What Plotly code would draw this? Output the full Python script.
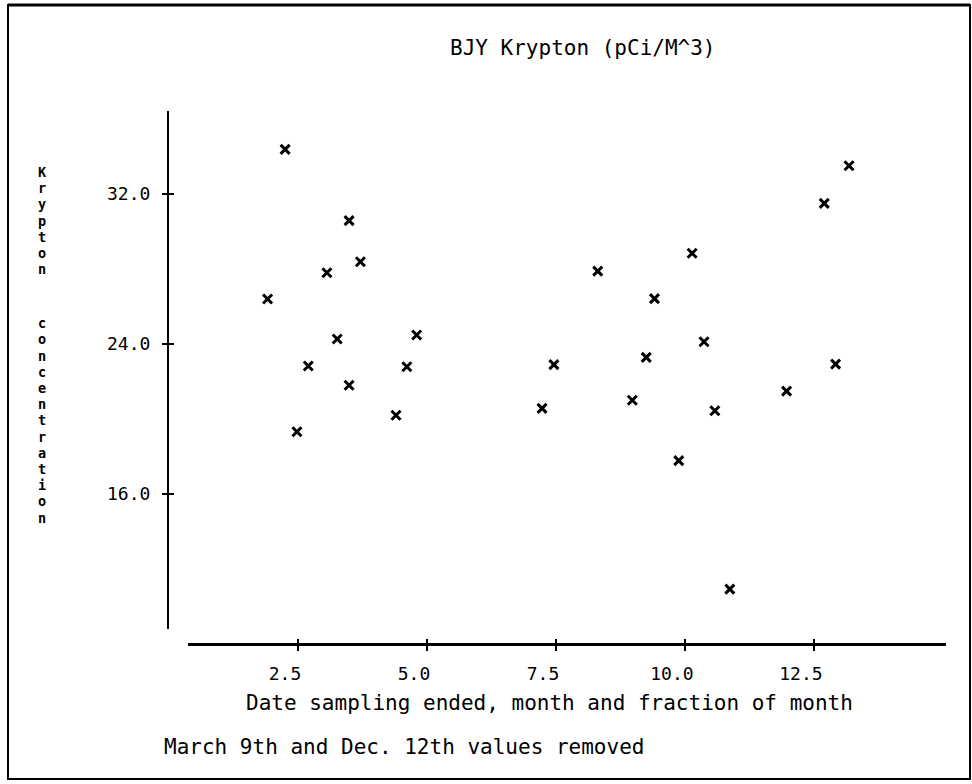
import plotly.graph_objects as go

W, H = 972, 784

# Sampling end date (month + fraction of month) and krypton concentration (pCi/M^3)
month = [1.91, 2.25, 2.48, 2.70, 3.06, 3.26, 3.49, 3.49, 3.71, 4.40, 4.61, 4.80,
         7.23, 7.46, 8.31, 8.98, 9.25, 9.41, 9.88, 10.14, 10.37, 10.58, 10.87,
         11.97, 12.70, 12.92, 13.18]
krypton = [26.40, 34.38, 19.32, 22.83, 27.80, 24.27, 30.58, 21.80, 28.39, 20.20,
           22.79, 24.48, 20.57, 22.90, 27.89, 21.00, 23.29, 26.42, 17.78, 28.84,
           24.12, 20.44, 10.93, 21.49, 31.50, 22.93, 33.51]

x_ticks = [2.5, 5.0, 7.5, 10.0, 12.5]
x_tick_text = ["2.5", "5.0", "7.5", "10.0", "12.5"]
y_ticks = [16.0, 24.0, 32.0]
y_tick_text = ["16.0", "24.0", "32.0"]

title_text = "BJY Krypton (pCi/M^3)"
x_title = "Date sampling ended, month and fraction of month"
y_title = "Krypton concentration"
note_text = "March 9th and Dec. 12th values removed"

FONT = "DejaVu Sans Mono"
X_RANGE = [0.368, 15.06]
Y_RANGE = [8.8, 36.43]


def px(x):
    return x / W


def py(y):
    return 1 - y / H


x_dom = [px(188), px(946)]
y_dom = [py(629), py(111)]
x_pos = py(644)
y_pos_axis = px(168)

fig = go.Figure()
fig.add_trace(go.Scatter(
    x=month, y=krypton, mode="markers",
    marker=dict(symbol="x-thin-open", size=9, color="black",
                line=dict(width=3, color="black")),
    showlegend=False,
))
# companion axes carry the inner half of each cross-shaped tick
fig.add_trace(go.Scatter(x=[], y=[], xaxis="x2", yaxis="y2",
                         showlegend=False, hoverinfo="skip"))

common = dict(showgrid=False, zeroline=False, tickcolor="black", tickwidth=2)

fig.update_layout(
    width=W, height=H, autosize=False,
    margin=dict(l=0, r=0, t=0, b=0),
    paper_bgcolor="white", plot_bgcolor="white",
    xaxis=dict(domain=x_dom, range=X_RANGE, anchor="free", position=x_pos,
               showline=True, linecolor="black", linewidth=3,
               ticks="outside", ticklen=5, tickvals=x_ticks, ticktext=x_tick_text,
               tickfont=dict(family=FONT, size=18, color="black"),
               ticklabelshift=-13, ticklabelstandoff=7, **common),
    xaxis2=dict(overlaying="x", range=X_RANGE, anchor="free", position=x_pos,
                showline=False, ticks="inside", ticklen=5, tickvals=x_ticks,
                showticklabels=False, **common),
    yaxis=dict(domain=y_dom, range=Y_RANGE, anchor="free", position=y_pos_axis,
               showline=True, linecolor="black", linewidth=2,
               ticks="outside", ticklen=5, tickvals=y_ticks, ticktext=y_tick_text,
               tickfont=dict(family=FONT, size=18, color="black"),
               ticklabelstandoff=8, **common),
    yaxis2=dict(overlaying="y", range=Y_RANGE, anchor="free", position=y_pos_axis,
                showline=False, ticks="inside", ticklen=5, tickvals=y_ticks,
                showticklabels=False, **common),
    shapes=[
        dict(type="rect", xref="paper", yref="paper",
             x0=px(8), x1=px(970), y0=py(779), y1=py(5),
             line=dict(color="black", width=2)),
        dict(type="line", xref="paper", yref="paper",
             x0=px(8), x1=px(970), y0=py(5), y1=py(5),
             line=dict(color="black", width=3)),
    ],
)

annotations = [
    dict(text=title_text, x=px(583), y=py(48), xanchor="center", yanchor="middle",
         font=dict(family=FONT, size=21, color="black")),
    dict(text=x_title, x=px(549), y=py(703), xanchor="center", yanchor="middle",
         font=dict(family=FONT, size=21, color="black")),
    dict(text=note_text, x=px(162), y=py(747), xanchor="left", yanchor="middle",
         font=dict(family=FONT, size=21, color="black")),
]

# vertical axis title: upright letters stacked one below another
letter_y = 172.0
for ch in y_title:
    if ch == " ":
        letter_y += 37.8
        continue
    annotations.append(dict(text=ch, x=px(42), y=py(letter_y),
                            xanchor="center", yanchor="middle", borderpad=0,
                            font=dict(family=FONT, size=13.5, color="black",
                                      weight="bold")))
    letter_y += 16.2

for a in annotations:
    a.update(xref="paper", yref="paper", showarrow=False)
fig.update_layout(annotations=annotations)

fig.write_html("out.html")
